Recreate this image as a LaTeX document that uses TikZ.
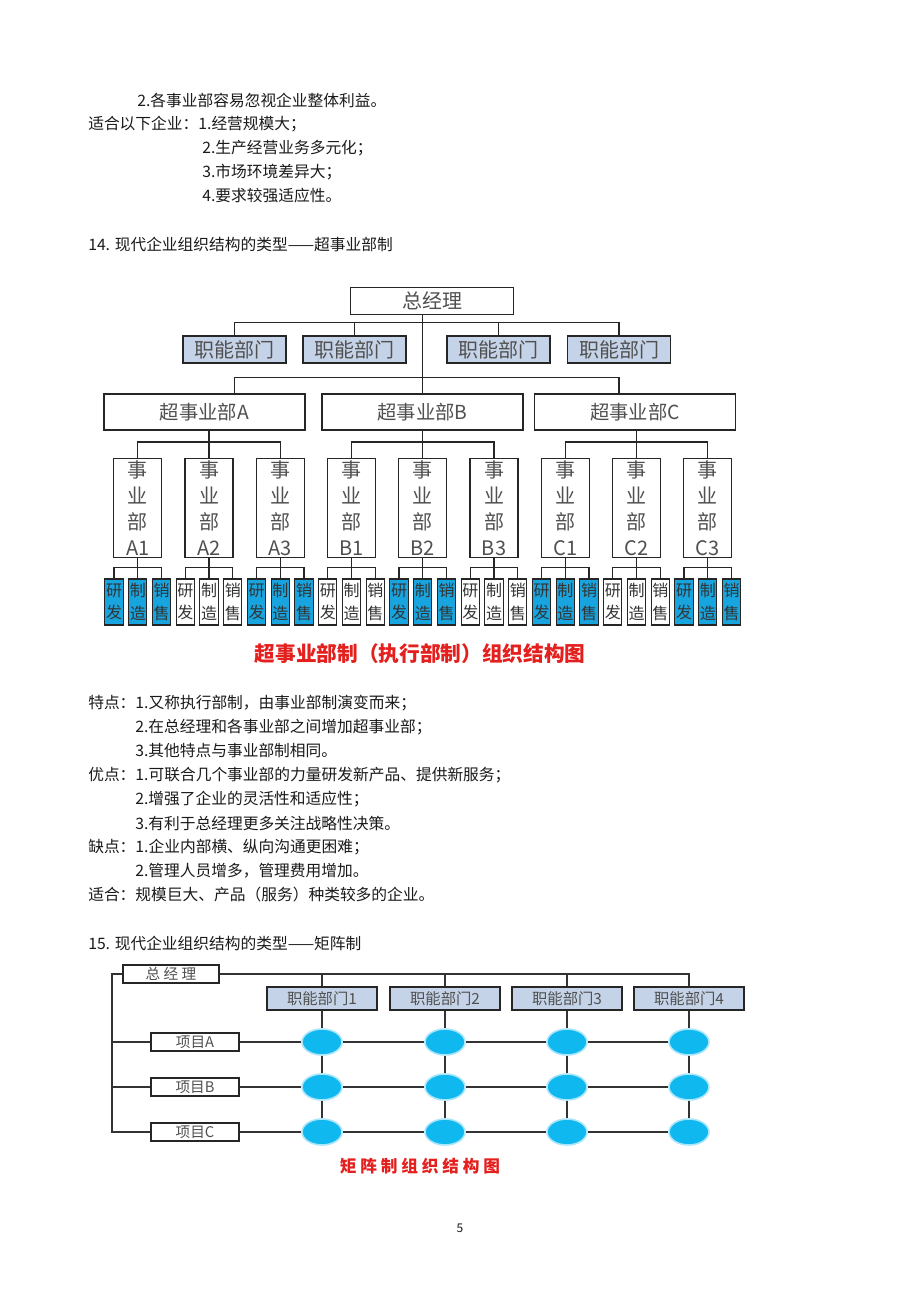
\documentclass[tikz,border=0pt]{standalone}
\usepackage{fontspec}
\setmainfont{Noto Sans CJK SC}
\usepackage{tikz}
\usetikzlibrary{shapes.geometric}

\definecolor{bodytext}{RGB}{26,26,26}
\definecolor{boxtext}{RGB}{80,80,80}
\definecolor{funcfill}{RGB}{197,211,232}
\definecolor{unitblue}{RGB}{24,164,222}
\definecolor{cellcyan}{RGB}{16,184,240}
\definecolor{titlered}{RGB}{228,32,30}

\tikzset{
  bodyline/.style={anchor=west, inner sep=0pt, text=bodytext, font=\fontsize{11.8}{14}\selectfont},
  orgbox/.style={draw=black!85, line width=1.1pt, inner sep=0pt, text=boxtext, align=center},
  gmbox/.style={orgbox, minimum width=122.25pt, minimum height=20.25pt, font=\fontsize{15}{18}\selectfont},
  funcbox/.style={orgbox, fill=funcfill, minimum width=77.25pt, minimum height=20.25pt, font=\fontsize{15}{18}\selectfont},
  superbox/.style={orgbox, minimum width=150.75pt, minimum height=27pt, font=\fontsize{14.5}{18}\selectfont},
  unitbox/.style={orgbox, minimum width=36pt, minimum height=74.25pt, font=\fontsize{15}{19.5}\selectfont},
  taskbox/.style={orgbox, line width=0.8pt, text=black!80, minimum width=13.8pt, minimum height=34.5pt, font=\fontsize{12}{17}\selectfont},
  taskblue/.style={taskbox, fill=unitblue},
  link/.style={draw=black!85, line width=1.1pt},
  mgmbox/.style={orgbox, line width=1pt, minimum width=72pt, minimum height=13.5pt, font=\fontsize{11}{13}\selectfont},
  mfuncbox/.style={orgbox, line width=1pt, fill=funcfill, minimum width=82.5pt, minimum height=17.25pt, font=\fontsize{11.5}{13}\selectfont},
  projbox/.style={orgbox, line width=1pt, minimum width=66pt, minimum height=13.5pt, font=\fontsize{11}{13}\selectfont},
  cell/.style={ellipse, fill=cellcyan, draw=cellcyan!35, line width=1.2pt, minimum width=30pt, minimum height=19.5pt, inner sep=0pt},
  mlink/.style={draw=black!80, line width=0.8pt},
  chartitle/.style={inner sep=0pt, text=titlered, font=\fontsize{15.5}{18}\selectfont\bfseries}
}

\begin{document}
\begin{tikzpicture}[x=0.75pt,y=0.75pt,yscale=-1,xscale=1]
\path[fill=white] (0,0) rectangle (920,1302);
\useasboundingbox (0,0) rectangle (920,1302);

% Text Node
\node[bodyline] (txt1) at (137,100) {2.各事业部容易忽视企业整体利益。};
% Text Node
\node[bodyline] (txt2) at (88,124) {适合以下企业：1.经营规模大；};
% Text Node
\node[bodyline] (txt3) at (202,148) {2.生产经营业务多元化；};
% Text Node
\node[bodyline] (txt4) at (202,172) {3.市场环境差异大；};
% Text Node
\node[bodyline] (txt5) at (202,196) {4.要求较强适应性。};
% Text Node
\node[bodyline] (head14) at (88,244) {14. 现代企业组织结构的类型——超事业部制};

%Shape: Rectangle -- top of the chart
\node[gmbox] (gm) at (432,301) {总经理};
\node[funcbox] (f1) at (234.5,349.5) {职能部门};
\node[funcbox] (f2) at (354.5,349.5) {职能部门};
\node[funcbox] (f3) at (498.5,349.5) {职能部门};
\node[funcbox] (f4) at (619,349.5) {职能部门};
\node[superbox] (sA) at (204.5,412) {超事业部A};
\node[superbox] (sB) at (422.5,412) {超事业部B};
\node[superbox] (sC) at (635,412) {超事业部C};

% divisions
\foreach \lab [count=\k from 0] in {A1,A2,A3,B1,B2,B3,C1,C2,C3}
  \node[unitbox] (d\k) at ({137.75+71.25*\k},508) {事\\业\\部\\\lab};

% research / production / sales
\foreach \i in {0,...,26} {
  \pgfmathtruncatemacro{\grp}{int(\i/3)}
  \pgfmathtruncatemacro{\pos}{mod(\i,3)}
  \ifodd\grp \def\tstyle{taskbox}\else \def\tstyle{taskblue}\fi
  \ifcase\pos \def\ttext{研\\发}\or \def\ttext{制\\造}\or \def\ttext{销\\售}\fi
  \node[\tstyle] (t\i) at ({114+23.75*\i},602) {\ttext};
}

% connectors
\draw[link] (f1.north) -- ++(0,-13) -| (f4.north);
\draw[link] (f2.north) -- ++(0,-13);
\draw[link] (f3.north) -- ++(0,-13);
\draw[link] (gm.south -| sB.north) -- (sB.north);
\draw[link] (sA.north -| f1.north) -- ++(0,-16) -| (sC.north -| f4.north);
\foreach \s/\a/\b/\c in {sA/0/1/2, sB/3/4/5, sC/6/7/8} {
  \draw[link] (d\b.north |- \s.south) -- (d\b.north);
  \draw[link] (d\a.north) -- ++(0,-16) -| (d\c.north);
}
\foreach \k in {0,...,8} {
  \pgfmathtruncatemacro{\ta}{3*\k}
  \pgfmathtruncatemacro{\tb}{3*\k+1}
  \pgfmathtruncatemacro{\tc}{3*\k+2}
  \draw[link] (d\k.south) -- (t\tb.north);
  \draw[link] (t\ta.north) -- ++(0,-11) -| (t\tc.north);
}

% Text Node
\node[chartitle] (title1) at (420,654) {超事业部制（执行部制）组织结构图};

% Text Node
\node[bodyline] (feat1) at (88,703) {特点：1.又称执行部制，由事业部制演变而来；};
\node[bodyline] (feat2) at (135,727) {2.在总经理和各事业部之间增加超事业部；};
\node[bodyline] (feat3) at (135,751) {3.其他特点与事业部制相同。};
\node[bodyline] (pro1) at (88,775) {优点：1.可联合几个事业部的力量研发新产品、提供新服务；};
\node[bodyline] (pro2) at (135,799) {2.增强了企业的灵活性和适应性；};
\node[bodyline] (pro3) at (135,823) {3.有利于总经理更多关注战略性决策。};
\node[bodyline] (con1) at (88,847) {缺点：1.企业内部横、纵向沟通更困难；};
\node[bodyline] (con2) at (135,871) {2.管理人员增多，管理费用增加。};
\node[bodyline] (suit) at (88,895) {适合：规模巨大、产品（服务）种类较多的企业。};
% Text Node
\node[bodyline] (head15) at (88,943) {15. 现代企业组织结构的类型——矩阵制};

%Shape: matrix chart
\node[mgmbox] (mgm) at (171,974) {总 经 理};
\node[mfuncbox] (mf1) at (322,998.5) {职能部门1};
\node[mfuncbox] (mf2) at (445,998.5) {职能部门2};
\node[mfuncbox] (mf3) at (567,998.5) {职能部门3};
\node[mfuncbox] (mf4) at (689,998.5) {职能部门4};
\node[projbox] (pA) at (195,1042) {项目A};
\node[projbox] (pB) at (195,1087) {项目B};
\node[projbox] (pC) at (195,1132) {项目C};
\foreach \r in {A,B,C}
  \foreach \c in {1,2,3,4}
    \node[cell] (e\r\c) at (mf\c |- p\r) {};

\coordinate (spine) at (112,974);
\draw[mlink] (mgm.east) -| (mf4.north);
\foreach \c in {1,2,3}
  \draw[mlink] (mf\c.north) -- (mf\c.north |- mgm.east);
\draw[mlink] (mgm.west) -- (spine) |- (pC.west);
\draw[mlink] (pA.west) -- (pA.west -| spine);
\draw[mlink] (pB.west) -- (pB.west -| spine);
\foreach \c in {1,2,3,4}
  \draw[mlink] (mf\c) -- (eA\c) -- (eB\c) -- (eC\c);
\foreach \r in {A,B,C}
  \draw[mlink] (p\r) -- (e\r1) -- (e\r2) -- (e\r3) -- (e\r4);

% Text Node
\node[chartitle, font=\fontsize{12.5}{14}\selectfont\bfseries] (title2) at (420,1166) {矩 阵 制 组 织 结 构 图};

% Text Node
\node[inner sep=0pt, text=bodytext, font=\fontsize{9}{11}\selectfont] (pageno) at (460,1228) {5};
\end{tikzpicture}
\end{document}
